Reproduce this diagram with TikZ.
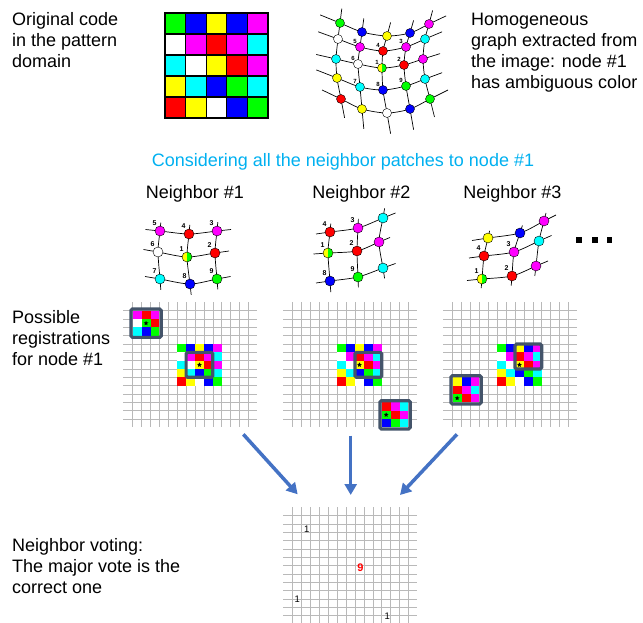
\documentclass[tikz,border=0pt]{standalone}
\usepackage{fontspec}
\setmainfont{Liberation Sans}
\usetikzlibrary{calc,arrows.meta,shapes.geometric,backgrounds}

\definecolor{capblue}{RGB}{0,176,240}
\definecolor{arrowblue}{RGB}{68,114,196}
\definecolor{boxslate}{RGB}{68,84,106}
% pure screen colours of the code
\definecolor{red}{RGB}{255,0,0}
\definecolor{green}{RGB}{0,255,0}
\definecolor{blue}{RGB}{0,0,255}
\definecolor{yellow}{RGB}{255,255,0}
\definecolor{cyan}{RGB}{0,255,255}
\definecolor{magenta}{RGB}{255,0,255}

% code words (rows of colours)
\def\coderows{{green,blue,yellow,blue,magenta},{white,magenta,red,magenta,cyan},{cyan,white,yellow,red,magenta},{yellow,cyan,blue,green,cyan},{red,yellow,white,blue,green}}
\def\patchone{{magenta,red,magenta},{white,green,red},{cyan,blue,green}}
\def\patchtwo{{red,magenta,cyan},{green,red,magenta},{blue,green,cyan}}
\def\patchthree{{yellow,blue,magenta},{red,magenta,cyan},{green,red,magenta}}

\newcommand\cells[2]{\foreach \row [count=\rw from 0] in #2 {\foreach \clr [count=\cl from 0] in \row {\path[fill=\clr,#1] (\cl,\rw) rectangle ++(1,1);}}}
\newcommand\reglines{\foreach \ii in {0,...,13} {\draw[gridln] (\ii,-1.04) -- (\ii,13.96); \draw[gridln] (-1.09,\ii) -- (13.97,\ii);}}

\tikzset{
  gdot/.style={circle, draw=black, line width=0.4pt, inner sep=0pt, minimum size=9pt},
  ndot/.style={gdot, minimum size=10pt},
  amb/.style={fill=yellow, path picture={\fill[green] (path picture bounding box.north) rectangle (path picture bounding box.south east);}},
  gline/.style={line width=0.7pt},
  tlbl/.style={font=\bfseries\fontsize{6}{6}\selectfont, inner sep=0pt},
  nlbl/.style={font=\bfseries\fontsize{7}{7}\selectfont, inner sep=0pt},
  txt/.style={font=\fontsize{18}{21}\selectfont, align=left, anchor=north west, inner sep=0pt},
  head/.style={font=\fontsize{18}{21}\selectfont, anchor=base, inner sep=0pt},
  gridln/.style={gray!55, line width=0.6pt},
  regbox/.style={draw=boxslate, line width=3.2pt, rounded corners=1.5pt},
  regstar/.style={star, star points=5, star point ratio=2.2, fill=black, inner sep=0pt, minimum size=5pt},
  vote/.style={font=\fontsize{9.5}{9.5}\selectfont, inner sep=0pt},
  votearrow/.style={arrowblue, line width=3.5pt, -{Triangle[width=12pt,length=11pt]}},
  moredot/.style={fill=black, inner sep=0pt, minimum size=5.5pt}
}

\begin{document}
\begin{tikzpicture}[x=1pt, y=-1pt]
\useasboundingbox (0,0) rectangle (643,623);

% texts
\node[txt] (orig) at (12,12) {Original code\\in the pattern\\domain};
\node[txt] (homog) at (471,13) {Homogeneous\\graph extracted from\\the image: node \#1\\has ambiguous color};
\node[head, text=capblue] (consider) at (343,167) {Considering all the neighbor patches to node \#1};
\node[head] (head1) at (195,198.5) {Neighbor \#1};
\node[head] (head2) at (361.5,198.5) {Neighbor \#2};
\node[head] (head3) at (512.5,198.5) {Neighbor \#3};
\node[txt] (possible) at (12,310) {Possible\\registrations\\for node \#1};
\node[txt] (voting) at (12,538) {Neighbor voting:\\The major vote is the\\correct one};

% code in the pattern domain
\begin{scope}[shift={(165,13)}, x=20.6pt, y=-21pt]
  \cells{draw=black, line width=1.2pt}{\coderows}
\end{scope}

% extracted graph
\foreach \n/\x/\y/\clr in {00/340/23/green, 01/362/32/blue, 02/387/36/yellow, 03/410/33/blue, 04/429/24/magenta,
    10/338/39/white, 11/360/47/magenta, 12/383/51/red, 13/406/47/magenta, 14/425/39/cyan,
    20/336/59/cyan, 21/358/64/white, 23/404/65/red, 24/423/59/magenta,
    30/337/78/yellow, 31/360/87/cyan, 32/383/90/blue, 33/406/86/green, 34/425/79/cyan,
    40/341/99/red, 41/362/109/yellow, 42/387/113/white, 43/410/109/blue, 44/430/99/green}
  \node[gdot, fill=\clr] (t\n) at (\x,\y) {};
\node[gdot, amb] (t22) at (382,68) {};
\foreach \n/\l in {11/5,12/4,13/3,21/6,22/1,23/2,31/7,32/8,33/9}
  \node[tlbl] (tl\n) at ($(t\n)+(-5,-6)$) {\l};

% neighbor patches
\foreach \n/\x/\y/\clr in {a00/160/231/magenta, a01/189/234/red, a02/217/231/magenta,
    a10/158/252/white, a12/215/253/red, a20/160/279/cyan, a21/190/284/blue, a22/217/279/green,
    b00/330/232/red, b01/358/228/magenta, b02/383/218/cyan, b11/357/251/red, b12/379/242/magenta,
    b20/330/281/blue, b21/358/277/green, b22/383/268/cyan,
    c00/488/238/yellow, c01/520/233/blue, c02/544/221/magenta, c10/484/256/red, c11/514/252/magenta,
    c12/539/241/cyan, c21/512/276/red, c22/536/266/magenta}
  \node[ndot, fill=\clr] (\n) at (\x,\y) {};
\node[ndot, amb] (a11) at (187,257) {};
\node[ndot, amb] (b10) at (328,253) {};
\node[ndot, amb] (c20) at (482,279) {};
\foreach \n/\l in {a00/5,a01/4,a02/3,a10/6,a11/1,a12/2,a20/7,a21/8,a22/9,b00/4,b01/3,b10/1,b11/2,b20/8,b21/9,c10/4,c11/3,c20/1,c21/2}
  \node[nlbl] (\n-l) at ($(\n)+(-5.5,-8)$) {\l};
\foreach \x [count=\ii] in {579,595,609.5}
  \node[moredot] (more\ii) at (\x,240) {};

\begin{pgfonlayer}{background}
  \foreach \ii in {0,...,4} {
    \coordinate (t-w\ii) at ($(t\ii0)!-0.9!(t\ii1)$);
    \coordinate (t-e\ii) at ($(t\ii4)!-0.9!(t\ii3)$);
    \coordinate (t-n\ii) at ($(t0\ii)!-0.9!(t1\ii)$);
    \coordinate (t-s\ii) at ($(t4\ii)!-0.9!(t3\ii)$);
    \draw[gline] plot[smooth] coordinates {(t-w\ii) (t\ii0.center) (t\ii1.center) (t\ii2.center) (t\ii3.center) (t\ii4.center) (t-e\ii)};
    \draw[gline] plot[smooth] coordinates {(t-n\ii) (t0\ii.center) (t1\ii.center) (t2\ii.center) (t3\ii.center) (t4\ii.center) (t-s\ii)};
  }
  \foreach \g in {a,b,c} {
    \foreach \ii in {0,1,2} {
      \coordinate (\g-w\ii) at ($(\g\ii0)!-0.5!(\g\ii1)$);
      \coordinate (\g-e\ii) at ($(\g\ii2)!-0.5!(\g\ii1)$);
      \coordinate (\g-n\ii) at ($(\g0\ii)!-0.4!(\g1\ii)$);
      \coordinate (\g-s\ii) at ($(\g2\ii)!-0.4!(\g1\ii)$);
      \draw[gline] plot[smooth] coordinates {(\g-w\ii) (\g\ii0.center) (\g\ii1.center) (\g\ii2.center) (\g-e\ii)};
      \draw[gline] plot[smooth] coordinates {(\g-n\ii) (\g0\ii.center) (\g1\ii.center) (\g2\ii.center) (\g-s\ii)};
    }
  }
\end{pgfonlayer}

% possible registrations
\begin{scope}[shift={(132.7,310.7)}, x=8.9pt, y=-8.33pt]
  \reglines
  \begin{scope}[shift={(5,4)}] \cells{}{\coderows} \end{scope}
  \draw[regbox] (6,5) rectangle (9,8);
  \node[regstar] (reg1-c) at (7.5,6.5) {};
  \cells{}{\patchone}
  \draw[regbox] (-0.2,-0.2) rectangle (3.2,3.2);
  \node[regstar] (reg1-s) at (1.5,1.5) {};
\end{scope}
\begin{scope}[shift={(292.7,310.7)}, x=8.9pt, y=-8.33pt]
  \reglines
  \begin{scope}[shift={(5,4)}] \cells{}{\coderows} \end{scope}
  \draw[regbox] (7,5) rectangle (10,8);
  \node[regstar] (reg2-c) at (7.5,6.5) {};
  \begin{scope}[shift={(10,11)}]
    \cells{}{\patchtwo}
    \draw[regbox] (-0.2,-0.2) rectangle (3.2,3.2);
    \node[regstar] (reg2-s) at (0.5,1.5) {};
  \end{scope}
\end{scope}
\begin{scope}[shift={(452.7,310.7)}, x=8.9pt, y=-8.33pt]
  \reglines
  \begin{scope}[shift={(5,4)}] \cells{}{\coderows} \end{scope}
  \draw[regbox] (7,4) rectangle (10,7);
  \node[regstar] (reg3-c) at (7.5,6.5) {};
  \begin{scope}[shift={(0,8)}]
    \cells{}{\patchthree}
    \draw[regbox] (-0.2,-0.2) rectangle (3.2,3.2);
    \node[regstar] (reg3-s) at (0.5,2.5) {};
  \end{scope}
\end{scope}

% neighbor voting
\begin{scope}[shift={(292.7,515.7)}, x=8.9pt, y=-8.33pt]
  \reglines
  \node[vote] (vote1) at (1.57,1.6) {1};
  \node[vote, text=red, font=\bfseries\fontsize{11}{11}\selectfont] (vote9) at (7.6,6.3) {9};
  \node[vote] (vote2) at (0.52,10.04) {1};
  \node[vote] (vote3) at (10.63,12.04) {1};
\end{scope}

\coordinate (arr1s) at (243.3,434.3);
\coordinate (arr1e) at (297.7,494.3);
\coordinate (arr2s) at (350.7,435.7);
\coordinate (arr2e) at (350.7,495);
\coordinate (arr3s) at (457,434.3);
\coordinate (arr3e) at (400,495);
\draw[votearrow] (arr1s) -- (arr1e);
\draw[votearrow] (arr2s) -- (arr2e);
\draw[votearrow] (arr3s) -- (arr3e);
\end{tikzpicture}
\end{document}
